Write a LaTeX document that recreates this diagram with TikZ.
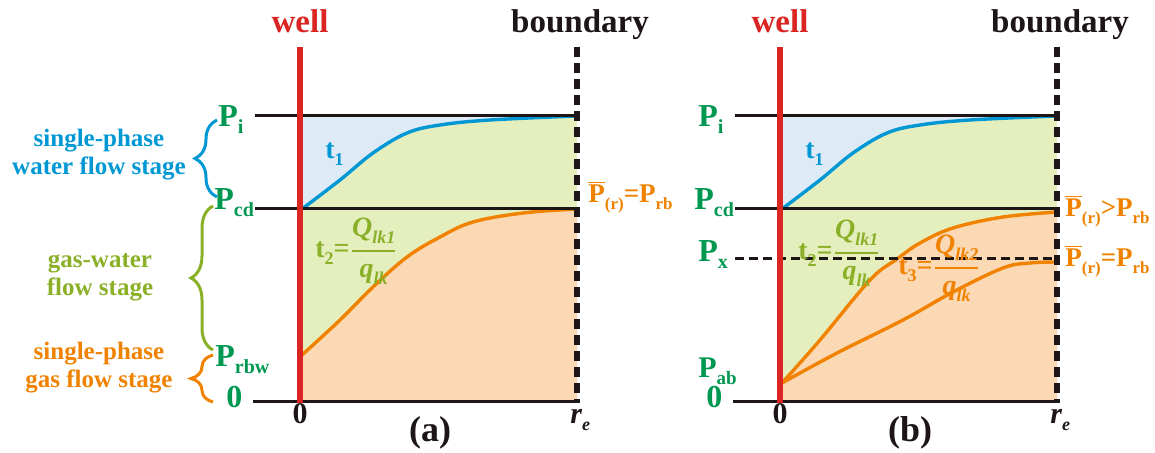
\documentclass[tikz,border=0pt]{standalone}
\usepackage{fontspec}
\setmainfont{Liberation Serif}
\usetikzlibrary{decorations.pathreplacing}

\definecolor{wellred}{RGB}{218,37,35}
\definecolor{lineblack}{RGB}{30,22,22}
\definecolor{curveblue}{RGB}{0,152,212}
\definecolor{curveorange}{RGB}{240,130,0}
\definecolor{pgreen}{RGB}{0,152,80}
\definecolor{olive}{RGB}{138,176,40}
\definecolor{bluefill}{RGB}{222,234,246}
\definecolor{greenfill}{RGB}{229,239,190}
\definecolor{orangefill}{RGB}{250,217,180}

% lowered small subscript
\newcommand{\sub}[2][10]{\raisebox{-3.5pt}{\fontsize{#1}{#1}\selectfont #2}}
\newcommand{\pbar}{$\overline{\mbox{P}}$}
\newcommand{\qfrac}[2]{$\displaystyle{\mbox{#1}\above 1pt\mbox{#2}}$}

% curves (panel coordinates, pixels)
\newcommand{\bluecurve}{plot[smooth, tension=0.6] coordinates {(302,209) (340,180) (373,153) (407,133) (440,125) (490,120) (577,116)}}
\newcommand{\orangeA}{plot[smooth, tension=0.6] coordinates {(302,355) (340,320) (373,287) (407,257) (440,237) (473,222) (523,213) (577,209)}}
\newcommand{\orangeB}{plot[smooth, tension=0.6] coordinates {(302,383) (340,340) (390,280) (417,259) (440,243) (473,228) (523,217) (577,212)}}
\newcommand{\orangeC}{plot[smooth, tension=0.6] coordinates {(302,383) (357,353) (423,320) (473,292) (523,268) (550,263) (577,262)}}

\begin{document}
\begin{tikzpicture}[x=0.5pt, y=-0.5pt,
    hline/.style={draw=lineblack, line width=1.5pt},
    wellline/.style={draw=wellred, line width=3pt},
    bdline/.style={draw=lineblack, line width=2.6pt, dash pattern=on 5pt off 3pt},
    pxline/.style={draw=lineblack, line width=1.5pt, dash pattern=on 4.5pt off 2.5pt},
    bcurve/.style={draw=curveblue, line width=1.7pt},
    ocurve/.style={draw=curveorange, line width=1.7pt},
    plab/.style={text=pgreen, font=\bfseries\fontsize{16}{16}\selectfont, inner sep=0pt, anchor=base west},
    stage/.style={font=\bfseries\fontsize{12.5}{14}\selectfont, align=center, inner sep=0pt},
    tlab/.style={font=\bfseries\fontsize{14}{14}\selectfont, inner sep=0pt, anchor=base west},
    rlab/.style={text=curveorange, font=\bfseries\fontsize{13.5}{14}\selectfont, inner sep=0pt, anchor=base west},
    axlab/.style={text=lineblack, font=\bfseries\fontsize{15}{15}\selectfont, inner sep=0pt, anchor=base},
    toplab/.style={font=\bfseries\fontsize{16.5}{17}\selectfont, inner sep=0pt, anchor=base},
    stagebrace/.style={decorate, decoration={brace, amplitude=11pt}, line width=1.5pt},
]
\useasboundingbox (0,0) rectangle (1155,453);

% Backgrounds
\foreach \dx in {0,480} {
  \begin{scope}[shift={(\dx,0)}]
    \fill[greenfill] (300,116) rectangle (577,402);
    \fill[bluefill] \bluecurve -- (302,116) -- cycle;
  \end{scope}
}
\fill[orangefill] \orangeA -- (577,402) -- (302,402) -- cycle;
\begin{scope}[shift={(480,0)}]
  \fill[orangefill] \orangeB -- (577,402) -- (302,402) -- cycle;
\end{scope}

% Curves
\draw[ocurve] \orangeA;
\begin{scope}[shift={(480,0)}]
  \draw[ocurve] \orangeB;
  \draw[ocurve] \orangeC;
  \draw[pxline] (255,259) -- (577,259);
\end{scope}

% Frame and labels of both panels
\foreach \dx/\tag in {0/a,480/b} {
  \begin{scope}[shift={(\dx,0)}]
    \draw[bcurve] \bluecurve;
    \draw[hline] (255,116) -- (580,116);
    \draw[hline] (255,209) -- (577,209);
    \draw[hline] (253,402) -- (580,402);
    \draw[wellline] (300,47) -- (300,403);
    \draw[bdline] (577,47) -- (577,402);
    \node[toplab, text=wellred] (well\tag) at (300,33) {well};
    \node[toplab, text=lineblack] (bound\tag) at (580,33) {boundary};
    \node[plab] (pi\tag) at (218,127) {P\sub{i}};
    \node[plab] (pcd\tag) at (214,210) {P\sub{cd}};
    \node[plab] (zero\tag) at (226,408) {0};
    \node[axlab] (origin\tag) at (300,423) {0};
    \node[axlab, anchor=base west] (re\tag) at (570,423) {\itshape r\sub[9]{e}};
    \node[axlab, font=\bfseries\fontsize{18}{18}\selectfont] (cap\tag) at (430,442) {(\tag)};
    \node[tlab, text=curveblue] (tone\tag) at (325,159) {t\sub[9]{1}};
  \end{scope}
}

% Panel (a)
\node[plab] (prbw) at (215,367) {P\sub{rbw}};
\node[tlab, text=olive] (ttwoa) at (315,258) {t\sub[9]{2}=\qfrac{\itshape Q\sub[9]{lk1}}{\itshape q\sub[9]{lk}}};
\node[rlab] (pra) at (588,203) {\pbar\sub[8.5]{(r)}=P\sub[8.5]{rb}};

\draw[stagebrace, curveblue] (217,197) -- (217,120);
\draw[stagebrace, olive] (213,350) -- (213,206);
\draw[stagebrace, curveorange] (213,402) -- (213,355);
\node[stage, text=curveblue] (water) at (99,155) {single-phase\\water flow stage};
\node[stage, text=olive] (gaswater) at (100,277) {gas-water\\flow stage};
\node[stage, text=curveorange] (gas) at (99,368) {single-phase\\gas flow stage};

% Panel (b)
\begin{scope}[shift={(480,0)}]
  \node[plab] (px) at (218,262) {P\sub{x}};
  \node[plab, font=\bfseries\fontsize{15}{15}\selectfont] (pab) at (218,378) {P\sub[9.5]{ab}};
  \node[tlab, text=olive] (ttwob) at (318,260) {t\sub[9]{2}=\qfrac{\itshape Q\sub[9]{lk1}}{\itshape q\sub[9]{lk}}};
  \node[tlab, text=curveorange] (tthree) at (418,275) {t\sub[9]{3}=\qfrac{\itshape Q\sub[9]{lk2}}{\itshape q\sub[9]{lk}}};
  \node[rlab] (prb1) at (585,217) {\pbar\sub[8.5]{(r)}>P\sub[8.5]{rb}};
  \node[rlab] (prb2) at (585,267) {\pbar\sub[8.5]{(r)}=P\sub[8.5]{rb}};
\end{scope}

\end{tikzpicture}
\end{document}
